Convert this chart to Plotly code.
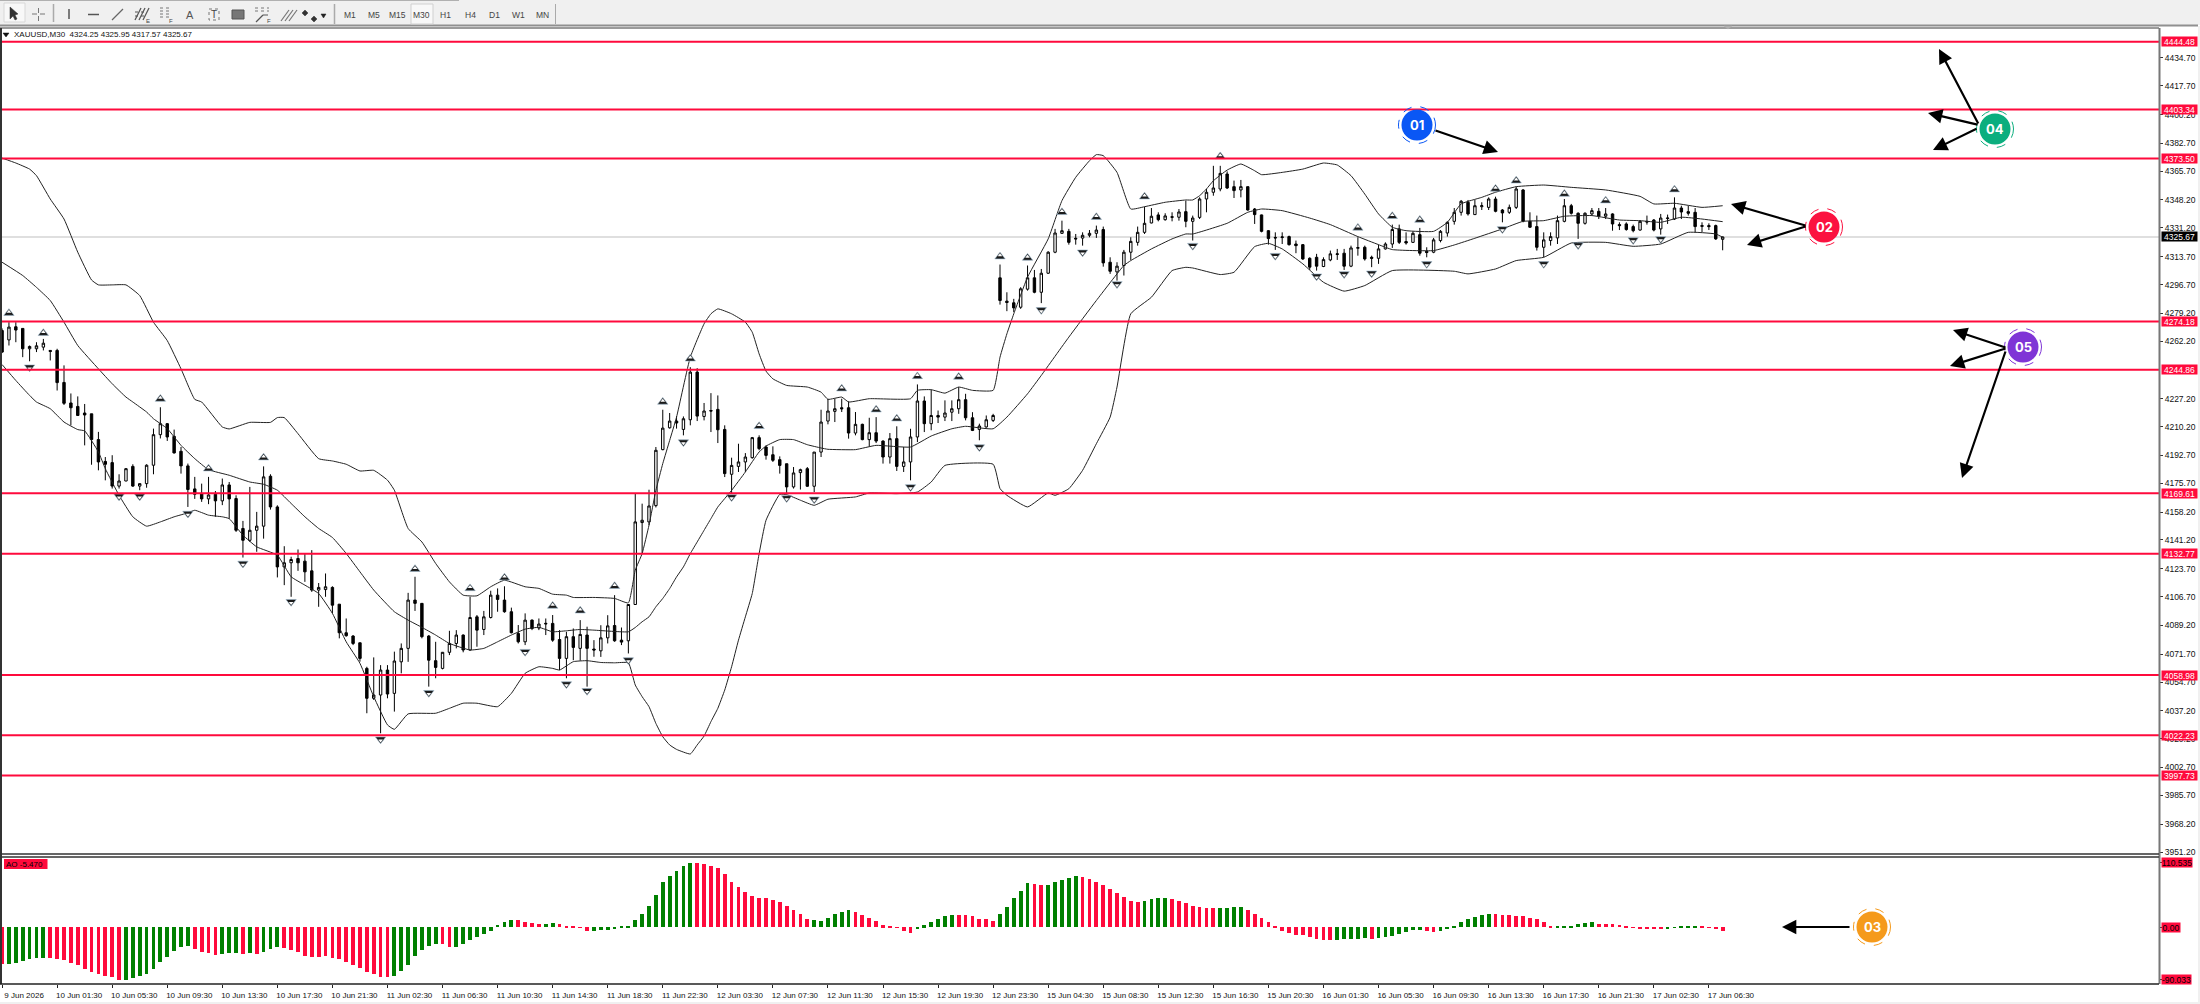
"""XAUUSD M30 terminal chart with Bollinger bands, fractals, AO pane and level callouts."""

import plotly.graph_objects as go
from plotly.subplots import make_subplots

WIDTH, HEIGHT = 2200, 1004
RED = "#ff0a3c"
GREEN = "#008000"
FONT = "Liberation Sans"

bar_open = [
    4268.7, 4263.0, 4271.0, 4270.0, 4257.6, 4257.6, 4258.6, 4256.6, 4256.6, 4237.1,
    4224.6, 4222.5, 4218.5, 4218.0, 4202.3, 4189.0, 4188.3, 4174.0, 4177.1, 4186.0,
    4174.0, 4175.5, 4186.7, 4205.3, 4212.0, 4204.3, 4195.2, 4186.3, 4172.3, 4169.4,
    4166.2, 4169.0, 4165.0, 4174.7, 4166.4, 4148.2, 4141.0, 4147.1, 4149.6, 4180.0,
    4161.3, 4124.8, 4127.3, 4129.9, 4128.3, 4122.4, 4110.7, 4111.0, 4112.3, 4102.1,
    4084.7, 4082.7, 4078.6, 4063.0, 4044.8, 4046.8, 4062.0, 4047.8, 4067.0, 4075.2,
    4104.6, 4102.6, 4082.7, 4067.7, 4063.0, 4072.8, 4078.2, 4083.3, 4074.2, 4094.4,
    4086.7, 4094.0, 4107.6, 4104.6, 4097.5, 4084.3, 4079.2, 4092.4, 4087.6, 4090.0,
    4090.4, 4080.6, 4069.1, 4082.3, 4075.2, 4083.3, 4074.8, 4073.7, 4081.6, 4089.1,
    4080.2, 4079.8, 4101.9, 4151.8, 4152.2, 4162.1, 4196.2, 4209.5, 4213.6, 4208.5,
    4214.4, 4243.4, 4216.4, 4220.0, 4220.7, 4208.5, 4181.2, 4186.0, 4188.7, 4191.3,
    4203.5, 4197.8, 4193.1, 4190.1, 4187.6, 4173.5, 4182.2, 4184.6, 4173.9, 4194.7,
    4213.6, 4219.5, 4221.7, 4221.7, 4206.3, 4211.6, 4202.3, 4206.5, 4201.4, 4191.7,
    4202.9, 4186.0, 4188.7, 4203.9, 4225.8, 4212.0, 4217.0, 4216.0, 4219.0, 4221.1,
    4226.6, 4215.6, 4208.5, 4210.0, 4214.0, 4300.8, 4286.6, 4285.6, 4282.9, 4293.9,
    4300.8, 4292.0, 4303.6, 4316.4, 4327.9, 4329.1, 4324.9, 4325.0, 4326.7, 4327.9,
    4330.2, 4310.3, 4304.4, 4308.3, 4316.4, 4322.4, 4328.5, 4334.2, 4339.1, 4336.2,
    4338.0, 4337.7, 4341.1, 4335.2, 4337.6, 4348.8, 4352.9, 4354.9, 4364.0, 4356.3,
    4354.3, 4356.3, 4342.7, 4339.1, 4329.5, 4325.4, 4325.3, 4325.9, 4321.4, 4321.0,
    4312.7, 4313.3, 4307.7, 4311.7, 4315.0, 4315.8, 4307.9, 4318.8, 4319.4, 4313.3,
    4312.7, 4318.4, 4321.4, 4330.6, 4322.9, 4322.4, 4327.1, 4317.0, 4316.4, 4323.5,
    4328.1, 4335.2, 4340.7, 4346.8, 4339.3, 4344.1, 4343.7, 4348.8, 4342.1, 4340.7,
    4343.7, 4354.3, 4335.2, 4332.0, 4319.4, 4323.5, 4325.1, 4335.2, 4344.7, 4340.1,
    4334.0, 4339.7, 4341.3, 4338.3, 4339.7, 4333.2, 4333.6, 4332.0, 4329.9, 4335.2,
    4336.0, 4330.6, 4336.9, 4336.6, 4343.3, 4341.1, 4340.7, 4332.6, 4332.6, 4332.6,
    4324.25,
]
bar_high = [
    4270.0, 4273.8, 4273.8, 4270.0, 4259.6, 4261.6, 4263.6, 4256.6, 4257.6, 4247.5,
    4230.4, 4228.6, 4224.0, 4218.0, 4207.0, 4191.7, 4192.8, 4181.2, 4185.0, 4187.3,
    4175.5, 4187.3, 4209.0, 4222.0, 4212.4, 4208.4, 4197.8, 4187.7, 4179.6, 4175.5,
    4179.6, 4171.0, 4178.6, 4176.5, 4168.4, 4152.8, 4173.5, 4158.3, 4186.0, 4181.2,
    4162.3, 4137.4, 4131.0, 4135.4, 4133.0, 4135.0, 4115.0, 4120.8, 4113.0, 4102.1,
    4093.4, 4083.3, 4078.6, 4064.0, 4069.7, 4065.0, 4065.0, 4073.2, 4078.2, 4109.0,
    4118.8, 4102.6, 4083.3, 4079.2, 4073.0, 4085.9, 4086.3, 4083.7, 4106.6, 4095.5,
    4098.0, 4110.3, 4111.7, 4113.0, 4100.0, 4089.4, 4096.5, 4092.8, 4093.4, 4093.4,
    4095.5, 4086.3, 4085.3, 4087.3, 4092.4, 4088.4, 4080.2, 4089.3, 4095.4, 4107.6,
    4087.9, 4102.0, 4169.8, 4163.3, 4171.8, 4197.8, 4220.5, 4218.5, 4216.6, 4216.4,
    4246.4, 4245.8, 4224.6, 4230.6, 4229.2, 4211.0, 4191.3, 4199.8, 4194.1, 4203.9,
    4204.9, 4198.8, 4198.2, 4192.1, 4187.6, 4185.6, 4184.6, 4185.6, 4194.7, 4220.5,
    4227.2, 4227.2, 4227.2, 4225.6, 4219.1, 4212.0, 4215.6, 4216.0, 4201.9, 4206.3,
    4210.4, 4197.8, 4208.9, 4235.9, 4228.6, 4232.7, 4220.0, 4226.2, 4226.2, 4234.3,
    4230.2, 4219.0, 4212.0, 4217.0, 4218.0, 4308.9, 4292.0, 4288.0, 4295.1, 4308.3,
    4305.6, 4306.2, 4317.0, 4330.6, 4335.6, 4330.6, 4327.5, 4328.5, 4329.9, 4332.6,
    4332.0, 4313.3, 4310.3, 4317.8, 4325.5, 4332.0, 4344.1, 4343.3, 4340.7, 4340.1,
    4340.7, 4342.7, 4347.8, 4338.7, 4349.8, 4354.9, 4369.0, 4369.0, 4365.6, 4360.0,
    4360.4, 4356.3, 4343.3, 4339.3, 4329.9, 4328.5, 4328.5, 4326.5, 4323.5, 4321.4,
    4313.3, 4315.4, 4313.3, 4317.4, 4318.4, 4318.4, 4320.4, 4325.5, 4320.4, 4314.3,
    4321.0, 4322.4, 4333.2, 4333.2, 4328.5, 4329.1, 4331.2, 4319.4, 4325.1, 4329.9,
    4335.2, 4343.3, 4348.2, 4348.2, 4348.2, 4346.8, 4349.8, 4350.2, 4342.7, 4345.4,
    4356.3, 4354.9, 4340.7, 4338.7, 4328.5, 4328.5, 4338.7, 4348.8, 4345.8, 4340.7,
    4340.7, 4343.3, 4343.3, 4343.3, 4340.1, 4334.6, 4334.6, 4333.2, 4336.0, 4338.7,
    4336.6, 4339.7, 4339.3, 4349.8, 4344.7, 4344.7, 4343.3, 4334.6, 4334.0, 4333.2,
    4325.95,
]
bar_low = [
    4255.0, 4259.6, 4261.6, 4252.5, 4250.0, 4255.6, 4256.6, 4250.5, 4232.2, 4223.4,
    4211.0, 4217.0, 4198.8, 4187.0, 4183.6, 4177.5, 4172.5, 4172.5, 4177.0, 4173.5,
    4171.5, 4173.0, 4181.2, 4203.0, 4201.5, 4193.8, 4181.6, 4161.3, 4166.2, 4164.4,
    4163.0, 4155.3, 4162.4, 4154.2, 4146.1, 4130.5, 4140.0, 4134.0, 4142.0, 4159.7,
    4118.4, 4113.7, 4106.6, 4122.4, 4115.7, 4109.6, 4100.5, 4106.6, 4096.5, 4081.3,
    4082.3, 4077.2, 4067.1, 4035.7, 4043.8, 4023.5, 4044.8, 4036.7, 4060.0, 4067.0,
    4098.0, 4081.3, 4051.9, 4057.0, 4062.4, 4071.1, 4075.2, 4072.8, 4073.8, 4076.2,
    4083.3, 4093.4, 4097.5, 4096.9, 4084.3, 4078.2, 4077.2, 4086.3, 4086.3, 4083.3,
    4079.2, 4062.0, 4057.0, 4068.0, 4067.7, 4051.9, 4070.1, 4070.0, 4078.2, 4079.2,
    4077.2, 4072.1, 4101.6, 4132.9, 4150.2, 4161.0, 4195.8, 4209.0, 4209.0, 4204.9,
    4211.0, 4213.6, 4214.0, 4206.9, 4200.2, 4179.5, 4169.4, 4182.6, 4182.6, 4190.7,
    4195.8, 4190.1, 4188.7, 4181.6, 4169.8, 4172.5, 4171.9, 4173.5, 4170.4, 4191.7,
    4211.6, 4213.0, 4219.1, 4202.9, 4204.9, 4201.9, 4198.2, 4200.2, 4187.7, 4187.7,
    4183.2, 4182.6, 4177.5, 4200.8, 4206.9, 4208.0, 4212.4, 4213.6, 4213.6, 4218.0,
    4214.0, 4207.5, 4201.9, 4209.6, 4213.0, 4284.5, 4280.5, 4279.9, 4281.9, 4293.0,
    4291.4, 4285.4, 4303.2, 4315.8, 4327.5, 4321.0, 4321.0, 4320.4, 4325.5, 4325.1,
    4307.6, 4303.2, 4299.1, 4302.2, 4311.7, 4320.4, 4327.5, 4334.0, 4335.2, 4335.6,
    4335.2, 4335.6, 4331.6, 4323.5, 4336.6, 4340.7, 4350.8, 4353.5, 4354.9, 4349.4,
    4349.8, 4341.7, 4333.6, 4328.5, 4321.0, 4317.8, 4321.4, 4320.4, 4315.8, 4311.7,
    4305.6, 4305.2, 4307.3, 4310.9, 4311.7, 4305.6, 4307.3, 4314.3, 4311.3, 4307.3,
    4309.3, 4318.0, 4319.0, 4321.4, 4321.0, 4322.0, 4314.3, 4313.3, 4315.8, 4322.4,
    4325.9, 4333.2, 4338.7, 4338.7, 4339.1, 4342.1, 4342.1, 4340.7, 4334.6, 4339.7,
    4342.7, 4334.6, 4331.2, 4317.4, 4313.3, 4320.4, 4321.4, 4334.6, 4339.3, 4324.5,
    4333.2, 4338.7, 4336.6, 4336.6, 4329.5, 4329.9, 4329.5, 4328.5, 4329.5, 4333.2,
    4329.1, 4327.1, 4333.6, 4336.0, 4336.6, 4338.7, 4328.5, 4328.5, 4329.9, 4323.9,
    4317.57,
]
bar_close = [
    4255.6, 4270.8, 4269.0, 4257.6, 4259.0, 4259.4, 4261.0, 4256.0, 4237.0, 4224.4,
    4221.7, 4217.0, 4217.3, 4202.3, 4188.7, 4187.3, 4174.0, 4177.1, 4184.6, 4174.0,
    4175.5, 4186.7, 4205.3, 4212.0, 4203.9, 4194.2, 4186.3, 4171.9, 4169.0, 4166.2,
    4168.6, 4165.0, 4174.7, 4166.2, 4147.1, 4141.0, 4147.1, 4149.6, 4179.6, 4161.3,
    4124.8, 4127.3, 4129.3, 4127.3, 4121.8, 4110.7, 4112.3, 4112.7, 4101.5, 4084.7,
    4082.9, 4078.2, 4069.1, 4044.8, 4046.8, 4062.0, 4047.4, 4067.5, 4075.2, 4104.6,
    4102.6, 4082.3, 4068.0, 4063.6, 4072.8, 4078.2, 4083.3, 4074.2, 4094.0, 4086.3,
    4094.4, 4107.6, 4105.0, 4097.5, 4084.7, 4079.2, 4092.4, 4087.3, 4090.0, 4090.4,
    4080.2, 4069.1, 4082.3, 4075.8, 4083.7, 4075.2, 4074.2, 4081.6, 4088.9, 4079.8,
    4079.0, 4101.9, 4152.2, 4153.2, 4161.9, 4195.8, 4209.3, 4213.6, 4212.4, 4215.0,
    4243.4, 4216.6, 4219.7, 4219.7, 4208.3, 4181.6, 4186.6, 4188.7, 4191.7, 4203.5,
    4196.8, 4192.7, 4189.7, 4186.6, 4173.5, 4182.0, 4184.0, 4173.9, 4194.7, 4213.0,
    4219.7, 4221.1, 4221.1, 4206.3, 4211.6, 4202.3, 4206.5, 4201.4, 4191.7, 4202.9,
    4186.0, 4188.7, 4203.9, 4225.8, 4212.0, 4217.0, 4216.0, 4218.5, 4221.1, 4226.6,
    4215.6, 4207.9, 4210.6, 4214.4, 4217.0, 4287.0, 4285.8, 4282.5, 4294.1, 4300.8,
    4292.0, 4303.6, 4316.4, 4328.1, 4329.5, 4322.4, 4324.5, 4326.7, 4327.9, 4329.9,
    4309.9, 4304.8, 4307.9, 4316.4, 4323.0, 4328.5, 4334.0, 4338.3, 4336.2, 4338.5,
    4337.7, 4340.9, 4335.2, 4337.2, 4348.8, 4352.9, 4355.5, 4364.4, 4355.5, 4353.9,
    4356.3, 4342.1, 4339.3, 4329.1, 4324.7, 4325.1, 4325.7, 4321.0, 4320.4, 4312.3,
    4307.3, 4307.9, 4311.9, 4315.4, 4315.4, 4307.9, 4319.0, 4319.2, 4312.3, 4312.7,
    4318.4, 4321.4, 4330.2, 4322.4, 4322.0, 4327.9, 4315.8, 4316.2, 4323.9, 4329.1,
    4334.6, 4340.7, 4347.4, 4339.7, 4344.7, 4344.7, 4348.8, 4341.3, 4340.3, 4343.7,
    4354.9, 4335.2, 4331.6, 4319.4, 4323.9, 4325.9, 4335.6, 4344.7, 4340.1, 4334.0,
    4340.1, 4341.7, 4338.3, 4339.7, 4333.6, 4332.6, 4330.2, 4329.5, 4335.2, 4334.8,
    4329.9, 4337.2, 4337.2, 4343.3, 4340.9, 4340.1, 4332.0, 4332.2, 4332.0, 4324.5,
    4325.67,
]

# bollinger lines as (bar, price) readings
upper_band = [
    (0, 4373.7), (2, 4370.7), (4, 4367), (5, 4363), (7, 4348.8), (9, 4336.6), (11, 4316.4),
    (13, 4299.5), (14, 4296.5), (16, 4296.5), (18, 4296.5), (20, 4290), (22, 4273.8),
    (24, 4262.6), (26, 4245.4), (28, 4226.8), (29, 4225.2), (32, 4210), (33, 4208.8),
    (36, 4212.8), (39, 4212.8), (40, 4215.7), (41, 4215.7), (43, 4205.9), (46, 4190.7),
    (48, 4189.3), (50, 4187.3), (52, 4183.2), (54, 4183.6), (56, 4177.6), (57, 4171.5),
    (59, 4148.2), (61, 4140), (63, 4126.9), (65, 4115.7), (67, 4107.6), (69, 4107.2),
    (71, 4112.7), (73, 4116.7), (76, 4112.7), (78, 4111.7), (80, 4108.2), (82, 4107.6),
    (83, 4106.2), (86, 4106.2), (89, 4105.6), (91, 4102.9), (92, 4122.8), (93, 4132.9),
    (94, 4150.2), (95, 4171.4), (96, 4187.7), (97, 4201.8), (98, 4216), (100, 4252.5),
    (102, 4272.8), (103, 4278.9), (104, 4281.9), (106, 4278.9), (108, 4273.8), (109, 4267.7),
    (110, 4254.5), (111, 4244), (112, 4239.3), (114, 4235.3), (117, 4234.3), (119, 4231.2),
    (120, 4226.8), (122, 4228.2), (123, 4225.2), (126, 4227.2), (132, 4227.2), (133, 4232.3),
    (135, 4232.7), (137, 4230.6), (139, 4234.3), (141, 4232.3), (144, 4232.3), (145, 4252.5),
    (146, 4266.7), (147, 4278.9), (149, 4301.2), (152, 4324.5), (154, 4347.8), (156, 4362),
    (158, 4372.1), (159, 4375.8), (160, 4375.2), (162, 4365), (164, 4342.7), (166, 4344.1),
    (169, 4346.8), (172, 4348.2), (173, 4348.2), (174, 4350.8), (175, 4354.9), (176, 4359.9),
    (178, 4366.4), (180, 4370.1), (182, 4366), (183, 4363.6), (186, 4365), (189, 4367),
    (192, 4370.7), (194, 4369.5), (196, 4363), (198, 4351.8), (200, 4339.7), (202, 4331.6),
    (204, 4329.5), (208, 4329.1), (210, 4334.6), (212, 4345.8), (215, 4349.8), (217, 4352.9),
    (220, 4356.3), (224, 4357.3), (228, 4355.9), (233, 4354.3), (238, 4350.4), (240, 4345.8),
    (243, 4346.2), (247, 4343.7), (250, 4344.7),
]
middle_band = [
    (0, 4310.3), (3, 4302.2), (5, 4295), (7, 4287), (9, 4273.8), (11, 4259.6), (14, 4245.4),
    (16, 4236.3), (18, 4228.2), (19, 4225.2), (21, 4219.1), (22, 4215), (24, 4209),
    (26, 4198.8), (28, 4190.7), (30, 4184), (33, 4180.6), (36, 4176.5), (38, 4175.1),
    (40, 4171.5), (42, 4163.4), (44, 4155.3), (46, 4148.2), (48, 4142.7), (50, 4133),
    (52, 4121.8), (54, 4110.7), (57, 4097.5), (59, 4092.4), (61, 4088), (63, 4083.3),
    (65, 4078.2), (68, 4074.2), (70, 4075.2), (72, 4079.2), (74, 4083.3), (76, 4086.9),
    (78, 4088), (80, 4085.3), (82, 4085.9), (84, 4086.7), (86, 4086.3), (91, 4085.3),
    (92, 4087.9), (93, 4091.4), (94, 4094.4), (95, 4100.5), (96, 4105.6), (97, 4111.6),
    (98, 4118.7), (99, 4124.8), (100, 4132.9), (101, 4140), (102, 4147.1), (103, 4154.2),
    (104, 4161.3), (105, 4166.4), (106, 4171.4), (108, 4182.6), (110, 4194.8), (111, 4198.4),
    (113, 4202.3), (115, 4202.3), (117, 4199.2), (119, 4197.2), (120, 4196.4), (124, 4196.2),
    (127, 4198.8), (132, 4197.8), (135, 4204.5), (138, 4208.9), (140, 4210.4), (144, 4208.9),
    (146, 4216), (149, 4230.2), (151, 4241.4), (155, 4264.7), (159, 4287), (163, 4308.3),
    (164, 4311.3), (167, 4318.4), (170, 4324.5), (172, 4327.5), (173, 4327.5), (178, 4334),
    (181, 4340.7), (183, 4342.7), (186, 4341.7), (190, 4337.2), (193, 4333.2), (197, 4325.9),
    (200, 4321), (202, 4318), (208, 4317.4), (211, 4320.8), (214, 4324.9), (218, 4330.6),
    (221, 4335.2), (224, 4335.6), (227, 4338.3), (231, 4338.7), (235, 4336), (238, 4335.6),
    (241, 4334.6), (244, 4337.7), (247, 4336.6), (250, 4335),
]
lower_band = [
    (0, 4248), (2, 4238.3), (4, 4229.2), (5, 4225.2), (7, 4221.1), (9, 4213), (11, 4208.4),
    (12, 4207.6), (14, 4194.8), (15, 4184.6), (17, 4168.4), (19, 4155.3), (21, 4149.6),
    (23, 4152.2), (25, 4155.3), (27, 4157.7), (28, 4159.3), (30, 4156.3), (32, 4155.3),
    (33, 4154.2), (35, 4144.1), (37, 4137), (40, 4131.9), (42, 4118.8), (44, 4113.7),
    (46, 4108.6), (48, 4096.5), (50, 4079.2), (52, 4066.1), (54, 4045.8), (56, 4028.6),
    (57, 4025.9), (59, 4035.3), (63, 4035.7), (65, 4038.7), (67, 4041.8), (69, 4041.8),
    (72, 4039.7), (74, 4047.8), (76, 4060), (78, 4064), (80, 4063), (81, 4062), (83, 4067.1),
    (85, 4067.7), (87, 4066.6), (89, 4066.4), (91, 4066.4), (92, 4052.9), (93, 4045.8),
    (94, 4039.7), (95, 4029.5), (96, 4021.4), (97, 4016.4), (98, 4013.7), (100, 4010.9),
    (101, 4016.4), (102, 4021.8), (103, 4030.6), (104, 4038.7), (105, 4049.8), (106, 4064),
    (107, 4080.2), (108, 4094.4), (109, 4108.6), (110, 4132.9), (111, 4153.2), (113, 4169),
    (114, 4168.8), (116, 4165.4), (118, 4162.3), (120, 4166), (124, 4167.4), (126, 4169.8),
    (130, 4169.4), (133, 4170.4), (135, 4176.5), (137, 4186.6), (144, 4187.3), (145, 4172.5),
    (146, 4168.4), (149, 4161.3), (152, 4169.8), (153, 4168.4), (155, 4172.4), (157, 4183.6),
    (159, 4199.8), (161, 4216), (162, 4234.3), (164, 4278.9), (167, 4289), (170, 4305.2),
    (172, 4307.2), (173, 4306.8), (177, 4302.8), (179, 4304.2), (182, 4319.8), (184, 4321.8),
    (186, 4318.4), (189, 4309.3), (192, 4298.1), (195, 4292.7), (198, 4296.1), (202, 4305.2),
    (211, 4304.8), (213, 4303.2), (217, 4306.2), (220, 4311.3), (224, 4313.3), (228, 4322),
    (233, 4322.4), (237, 4320), (241, 4321.4), (245, 4328.5), (249, 4327.5), (250, 4325.5),
]

# fractal arrows as (bar, price)
fractal_up = [
    (1, 4279.3), (6, 4267.1), (23, 4227), (30, 4184.6), (38, 4191.3), (60, 4123.4),
    (68, 4111.7), (73, 4118.2), (80, 4101), (84, 4098.1), (89, 4113), (96, 4225.2),
    (100, 4251.5), (110, 4210.4), (122, 4233.3), (127, 4220.5), (130, 4215), (133, 4240.8),
    (139, 4240.4), (145, 4313.7), (149, 4312.9), (154, 4340.7), (159, 4337.7), (166, 4350.2),
    (177, 4374.7), (197, 4331.2), (202, 4338.3), (206, 4336), (217, 4354.9), (220, 4359.9),
    (227, 4351.8), (233, 4347.8), (243, 4354.5),
]
fractal_down = [
    (4, 4246.4), (17, 4167.8), (20, 4167.8), (27, 4157.3), (35, 4126.9), (42, 4103.6),
    (55, 4019.9), (62, 4048.2), (76, 4073.2), (82, 4053.5), (85, 4049.4), (91, 4068.1),
    (99, 4200.8), (106, 4167.4), (114, 4166.8), (118, 4166), (132, 4173.5), (142, 4197.8),
    (151, 4281.3), (157, 4316.4), (162, 4297.1), (173, 4320.4), (185, 4314.3), (191, 4301.8),
    (195, 4303.2), (199, 4303.6), (207, 4309.3), (218, 4330.6), (224, 4309.3), (229, 4320.8),
    (237, 4323.9), (241, 4324.5),
]

ao_values = [
    -63.3, -63.3, -61.6, -57.6, -54.7, -53.0, -53.0, -53.0, -54.2, -56.5,
    -61.0, -64.4, -70.7, -75.9, -79.8, -83.3, -85.5, -89.5, -90.03, -86.7,
    -83.8, -79.8, -70.7, -58.7, -50.2, -39.9, -33.1, -31.9, -37.1, -41.6,
    -44.5, -47.3, -45.6, -44.5, -43.3, -45.6, -44.5, -45.6, -42.8, -37.1,
    -34.2, -35.9, -38.2, -42.8, -48.5, -50.2, -50.2, -49.0, -51.9, -54.7,
    -59.3, -64.4, -69.0, -76.4, -79.8, -85.5, -85.5, -83.8, -74.7, -64.4,
    -48.5, -38.8, -31.9, -29.1, -29.1, -33.6, -33.6, -28.5, -22.2, -16.5,
    -11.4, -5.7, 4.0, 9.1, 12.0, 12.0, 9.7, 6.8, 5.7, 5.7,
    6.8, 5.1, 2.9, 1.7, -0.3, -5.7, -5.7, -4.6, -4.0, -2.3,
    1.7, 2.9, 12.5, 23.4, 37.1, 54.7, 77.0, 87.8, 97.0, 104.9,
    110.5, 110.0, 107.8, 104.9, 101.5, 91.2, 77.6, 69.6, 60.5, 53.6,
    50.2, 49.8, 47.3, 42.8, 36.5, 29.1, 22.8, 14.3, 12.0, 11.4,
    16.0, 22.2, 26.2, 29.7, 25.7, 21.1, 15.4, 10.3, 3.4, 0.6,
    -1.1, -5.7, -9.1, -2.3, 3.4, 9.1, 13.7, 19.4, 21.1, 21.0,
    20.5, 18.8, 14.3, 13.7, 10.8, 23.4, 35.4, 50.2, 62.2, 76.4,
    73.6, 72.4, 73.0, 78.1, 81.0, 85.0, 87.3, 85.5, 82.1, 77.6,
    72.4, 65.6, 58.2, 51.3, 45.1, 43.9, 45.1, 49.0, 50.2, 49.6,
    47.9, 45.1, 41.1, 35.9, 34.2, 32.5, 32.4, 32.6, 33.6, 34.2,
    34.3, 29.7, 22.8, 16.5, 9.1, 2.3, -5.7, -9.7, -12.5, -13.1,
    -17.1, -19.4, -21.7, -22.2, -21.7, -20.5, -20.0, -19.4, -18.2, -19.4,
    -17.7, -16.5, -14.3, -11.4, -8.0, -5.1, -4.0, -5.7, -8.0, -5.7,
    -2.9, 1.7, 9.7, 14.3, 17.7, 21.1, 22.8, 22.6, 21.7, 20.5,
    18.8, 18.7, 15.4, 14.3, 8.6, 2.9, 0.6, 0.7, 2.9, 5.7,
    7.4, 9.1, 6.3, 5.7, 5.6, 4.0, 1.1, -0.1, -1.7, -1.8,
    -1.9, -3.4, -1.7, -0.3, 0.6, 1.7, 2.9, 1.1, -0.6, -1.7,
    -5.47,
]
# alternating run lengths of red and green AO bars, starting red
ao_color_runs = [
    1, 6, 11, 10, 4, 3, 1, 1, 1, 3, 16, 7, 2, 9, 4, 2, 5, 15, 17, 6, 9,
    6, 6, 5, 2, 5, 9, 4, 7, 4, 13, 5, 1, 7, 2, 8, 9, 6, 10, 5, 4,
]

level_prices = [
    4444.48, 4403.34, 4373.50, 4274.18, 4244.86, 4169.61,
    4132.77, 4058.98, 4022.23, 3997.73,
]
last_price = 4325.67

price_ticks = [
    4434.70, 4417.70, 4400.20, 4382.70, 4365.70, 4348.20, 4331.20, 4313.70, 4296.70, 4279.20,
    4262.20, 4227.20, 4210.20, 4192.70, 4175.70, 4158.20, 4141.20, 4123.70, 4106.70, 4089.20,
    4071.70, 4054.70, 4037.20, 4020.20, 4002.70, 3985.70, 3968.20, 3951.20,
]
time_labels = [
    "9 Jun 2026", "10 Jun 01:30", "10 Jun 05:30", "10 Jun 09:30", "10 Jun 13:30",
    "10 Jun 17:30", "10 Jun 21:30", "11 Jun 02:30", "11 Jun 06:30", "11 Jun 10:30",
    "11 Jun 14:30", "11 Jun 18:30", "11 Jun 22:30", "12 Jun 03:30", "12 Jun 07:30",
    "12 Jun 11:30", "12 Jun 15:30", "12 Jun 19:30", "12 Jun 23:30", "15 Jun 04:30",
    "15 Jun 08:30", "15 Jun 12:30", "15 Jun 16:30", "15 Jun 20:30", "16 Jun 01:30",
    "16 Jun 05:30", "16 Jun 09:30", "16 Jun 13:30", "16 Jun 17:30", "16 Jun 21:30",
    "17 Jun 02:30", "17 Jun 06:30",
]
timeframes = ["M1", "M5", "M15", "M30", "H1", "H4", "D1", "W1", "MN"]

# callouts: label, colour, centre pixel, arrows as tail -> head pixels
callouts = [
    ("01", "#0a57f5", (1417, 125), [((1434, 130), (1498, 152))]),
    ("02", "#fb1240", (1824, 227), [((1807, 226), (1731, 204)), ((1807, 226), (1747, 245))]),
    ("03", "#f59a1b", (1872, 927), [((1851, 927), (1782, 927))]),
    ("04", "#0bae7e", (1995, 129), [((1979, 125), (1939, 49)), ((1979, 125), (1928, 113)),
                                    ((1978, 128), (1933, 150))]),
    ("05", "#7f35d6", (2023, 347), [((2007, 348), (1953, 330)), ((2007, 348), (1950, 366)),
                                    ((2006, 350), (1962, 478))]),
]

bar_x = list(range(len(bar_open)))
time_ticks = [i * 8 for i in range(len(time_labels))]

ao_colors = []
for n, run in enumerate(ao_color_runs):
    ao_colors += [RED if n % 2 == 0 else GREEN] * run


def px(x):
    return x / WIDTH


def py(y):
    return 1 - y / HEIGHT


def page_line(x0, y0, x1, y1, color="#555555", width=1, dash="solid"):
    fig.add_shape(type="line", xref="paper", yref="paper", x0=px(x0), y0=py(y0), x1=px(x1), y1=py(y1),
                  line=dict(color=color, width=width, dash=dash))


def page_rect(x0, y0, x1, y1, fill, line=None, layer="above"):
    fig.add_shape(type="rect", xref="paper", yref="paper", x0=px(x0), y0=py(y0), x1=px(x1), y1=py(y1),
                  fillcolor=fill, line=dict(color=line or fill, width=1 if line else 0), layer=layer)


def page_path(points, fill, line=None):
    path = "M" + " L".join(f"{px(x):.5f},{py(y):.5f}" for x, y in points) + " Z"
    fig.add_shape(type="path", xref="paper", yref="paper", path=path, fillcolor=fill,
                  line=dict(color=line or fill, width=0.5))


def page_text(x, y, text, size=8.5, color="#000000", anchor="left", **kwargs):
    fig.add_annotation(xref="paper", yref="paper", x=px(x), y=py(y), text=text, showarrow=False,
                       xanchor=anchor, yanchor="middle", font=dict(family=FONT, size=size, color=color),
                       borderpad=0, **kwargs)


def axis_tag(y_value, yref, text, bg, color, width=35):
    fig.add_annotation(xref="paper", yref=yref, x=px(2161), y=y_value, text=text, showarrow=False,
                       xanchor="left", yanchor="middle", font=dict(family=FONT, size=8.5, color=color),
                       bgcolor=bg, width=width, height=9, borderpad=0, align="center")


fig = make_subplots(rows=2, cols=1, shared_xaxes=True)

fig.add_trace(go.Candlestick(
    x=bar_x, open=bar_open, high=bar_high, low=bar_low, close=bar_close,
    whiskerwidth=0,
    increasing=dict(line=dict(color="#000000", width=1), fillcolor="#ffffff"),
    decreasing=dict(line=dict(color="#000000", width=1), fillcolor="#000000"),
    showlegend=False,
), row=1, col=1)

for band in [upper_band, middle_band, lower_band]:
    fig.add_trace(go.Scatter(
        x=[p[0] for p in band], y=[p[1] for p in band], mode="lines",
        line=dict(color="#222222", width=1, shape="spline", smoothing=0.4), showlegend=False,
    ), row=1, col=1)

# fractal glyph: a triangle with a white notch cut out of its base
for marks, body, notch_angle in [(fractal_up, "triangle-up", 180), (fractal_down, "triangle-down", 0)]:
    xs = [p[0] for p in marks]
    ys = [p[1] for p in marks]
    fig.add_trace(go.Scatter(
        x=xs, y=ys, mode="markers",
        marker=dict(symbol=body, size=9, color="#1a1a1a", line=dict(color="#9db8cc", width=0.6)),
        showlegend=False,
    ), row=1, col=1)
    fig.add_trace(go.Scatter(
        x=xs, y=ys, mode="markers",
        marker=dict(symbol="triangle-down", size=4, angle=notch_angle, standoff=1.3, color="#ffffff",
                    line=dict(width=0)),
        showlegend=False,
    ), row=1, col=1)

fig.add_trace(go.Bar(x=bar_x, y=ao_values, marker=dict(color=ao_colors, line=dict(width=0)),
                     width=0.55, showlegend=False), row=2, col=1)

fig.add_hline(y=last_price, line_color="#d4d4d4", line_width=1.5, layer="below", row=1, col=1)
for level in level_prices:
    fig.add_hline(y=level, line_color=RED, line_width=2, row=1, col=1)

x_domain = [px(2), px(2159)]
x_range = [-0.01, 313.4]
fig.update_layout(
    width=WIDTH, height=HEIGHT,
    margin=dict(l=0, r=0, t=0, b=0, autoexpand=False),
    paper_bgcolor="#ffffff", plot_bgcolor="#ffffff",
    showlegend=False, bargap=0, boxgap=0.5,
    font=dict(family=FONT, size=8.5, color="#000000"),
    xaxis=dict(domain=x_domain, range=x_range, showgrid=False, zeroline=False, showticklabels=False,
               ticks="", rangeslider=dict(visible=False), automargin=False),
    yaxis=dict(domain=[py(854), py(29)], range=[3950.0, 4452.3], side="right", showgrid=False,
               zeroline=False, tickmode="array", tickvals=price_ticks, automargin=False,
               ticktext=[f"{v:.2f}" for v in price_ticks], ticks="outside", ticklen=3, tickwidth=1,
               tickcolor="#333333", tickfont=dict(family=FONT, size=8.5, color="#111111")),
    xaxis2=dict(domain=x_domain, range=x_range, showgrid=False, zeroline=False, tickmode="array",
                tickvals=time_ticks, ticktext=time_labels, ticks="outside", ticklen=3, tickwidth=1,
                tickcolor="#222222", tickangle=0, ticklabelshift=22, automargin=False,
                tickfont=dict(family=FONT, size=8, color="#111111")),
    yaxis2=dict(domain=[py(984), py(857)], range=[-97.0, 120.3], side="right", showgrid=False,
                zeroline=False, tickmode="array", tickvals=[110.535, 0, -90.033], automargin=False,
                ticks="outside", ticklen=2, tickcolor="#222222", showticklabels=False),
)

# window chrome: toolbar strip, pane frames
page_rect(0, 0, WIDTH, 25, "#f0f0f0")
page_line(0, 0.5, 459, 0.5, "#b0b0b0", 1)
page_line(0, 25.5, 2198, 25.5, "#909090", 2)
page_rect(0, 1002, WIDTH, HEIGHT, "#f0f0f0")
page_rect(2198, 26, WIDTH, HEIGHT, "#f0f0f0")
page_line(0, 28, 2159, 28, "#7a7a7a", 1.5)
page_line(1, 28, 1, 984, "#333333", 2)
page_line(2159.5, 28, 2159.5, 984, "#777777", 2)
page_line(0, 854, 2159, 854, "#333333", 1.5)
page_line(0, 857, 2159, 857, "#333333", 1.5)
page_line(0, 984, 2159, 984, "#222222", 1.5)

# toolbar icons
page_rect(4, 3, 25, 22, "#f8f8f8", "#d8d8d8")
page_path([(10, 7), (10, 19), (13, 16), (15, 20), (17, 19), (15, 15), (18, 14)], "#333333")
page_line(32, 14, 37, 14, "#777777")
page_line(40, 14, 45, 14, "#777777")
page_line(38.5, 8, 38.5, 13, "#777777")
page_line(38.5, 16, 38.5, 21, "#777777")
page_line(53.5, 4, 53.5, 22, "#aaaaaa", 1.5)
page_line(69, 9, 69, 19, "#555555", 1.5)
page_line(88, 14.5, 99, 14.5, "#555555", 1.5)
page_line(112, 20, 123, 9, "#666666", 1.2)
for dx in [0, 4, 8]:
    page_line(135 + dx, 20, 141 + dx, 8, "#555555", 1.3)
page_line(135, 12, 147, 12, "#555555", 1, "dot")
page_line(135, 16, 147, 16, "#555555", 1, "dot")
page_text(145, 21, "E", size=6, color="#444444")
for row in [8, 11, 14, 17]:
    page_line(160, row, 172, row, "#777777", 1, "dot")
page_text(168, 21, "F", size=6, color="#444444")
page_text(190, 15, "A", size=11, color="#555555", anchor="center")
fig.add_shape(type="rect", xref="paper", yref="paper", x0=px(209), y0=py(9), x1=px(219), y1=py(20),
              line=dict(color="#777777", width=1, dash="dot"))
page_text(214, 15, "T", size=10, color="#444444", anchor="center")
fig.add_shape(type="rect", xref="paper", yref="paper", x0=px(232), y0=py(10), x1=px(244), y1=py(19),
              fillcolor="#777777", line=dict(color="#555555", width=1))
for row in [8, 11]:
    page_line(255, row, 269, row, "#777777", 1, "dot")
page_line(256, 22, 263, 15, "#555555", 1.2)
page_line(263, 15, 268, 15, "#555555", 1)
page_text(266, 21, "F", size=6, color="#444444")
for dx in [0, 4, 8]:
    page_line(281 + dx, 21, 289 + dx, 10, "#777777", 1.2)
page_path([(305, 10), (308, 13), (305, 16), (302, 13)], "#333333")
page_path([(314, 16), (317, 19), (314, 22), (311, 19)], "#333333")
page_path([(321, 14), (326, 14), (323.5, 18)], "#222222")
page_line(334.5, 4, 334.5, 24, "#aaaaaa", 1.5)
page_rect(411, 4, 433, 24, "#f8f8f8", "#d0d0d0")
for n, tf in enumerate(timeframes):
    page_text(349.5 + n * 24.1, 15, tf, size=8.5, color="#444444", anchor="center")
page_line(555.5, 4, 555.5, 24, "#aaaaaa", 1)

# symbol header and AO caption
page_path([(3, 33), (9, 33), (6, 37)], "#111111")
page_text(13, 35, "XAUUSD,M30  4324.25 4325.95 4317.57 4325.67", size=8, color="#111111")
page_rect(4, 859, 47.5, 869, RED)
page_text(5, 864, "AO -5.470", size=8, color="#000000")
page_path([(1724, 26), (1732, 26), (1728, 29)], "#b0b0b0")

# price tags on the right-hand scale
for level in level_prices:
    axis_tag(level, "y", f"{level:.2f}", RED, "#ffffff")
axis_tag(last_price, "y", f"{last_price:.2f}", "#000000", "#ffffff")
axis_tag(110.535, "y2", "110.535", RED, "#000000", width=30)
axis_tag(0, "y2", "0.00", RED, "#000000", width=18)
axis_tag(-90.033, "y2", "-90.033", RED, "#000000", width=29)

# numbered callouts
for label, color, (cx, cy), arrows in callouts:
    fig.add_shape(type="circle", xref="paper", yref="paper", x0=px(cx - 15.5), x1=px(cx + 15.5),
                  y0=py(cy - 15.5), y1=py(cy + 15.5), fillcolor=color, line=dict(width=0))
    fig.add_shape(type="circle", xref="paper", yref="paper", x0=px(cx - 18.5), x1=px(cx + 18.5),
                  y0=py(cy - 18.5), y1=py(cy + 18.5), line=dict(color=color, width=1, dash="dash"))
    for (tx, ty), (hx, hy) in arrows:
        fig.add_annotation(xref="paper", yref="paper", x=px(hx), y=py(hy), axref="pixel", ayref="pixel",
                           ax=tx - hx, ay=ty - hy, text="", showarrow=True, arrowhead=2, arrowsize=1.3,
                           arrowwidth=2.2, arrowcolor="#000000", standoff=0, startstandoff=0)
    fig.add_annotation(xref="paper", yref="paper", x=px(cx), y=py(cy), text=f"<b>{label}</b>",
                       showarrow=False, xanchor="center", yanchor="middle",
                       font=dict(family="Inter", size=13, color="#ffffff"))

fig.write_html("out.html", config={"displayModeBar": False},
               post_script="document.body.style.margin='0';document.body.style.overflow='hidden';")
